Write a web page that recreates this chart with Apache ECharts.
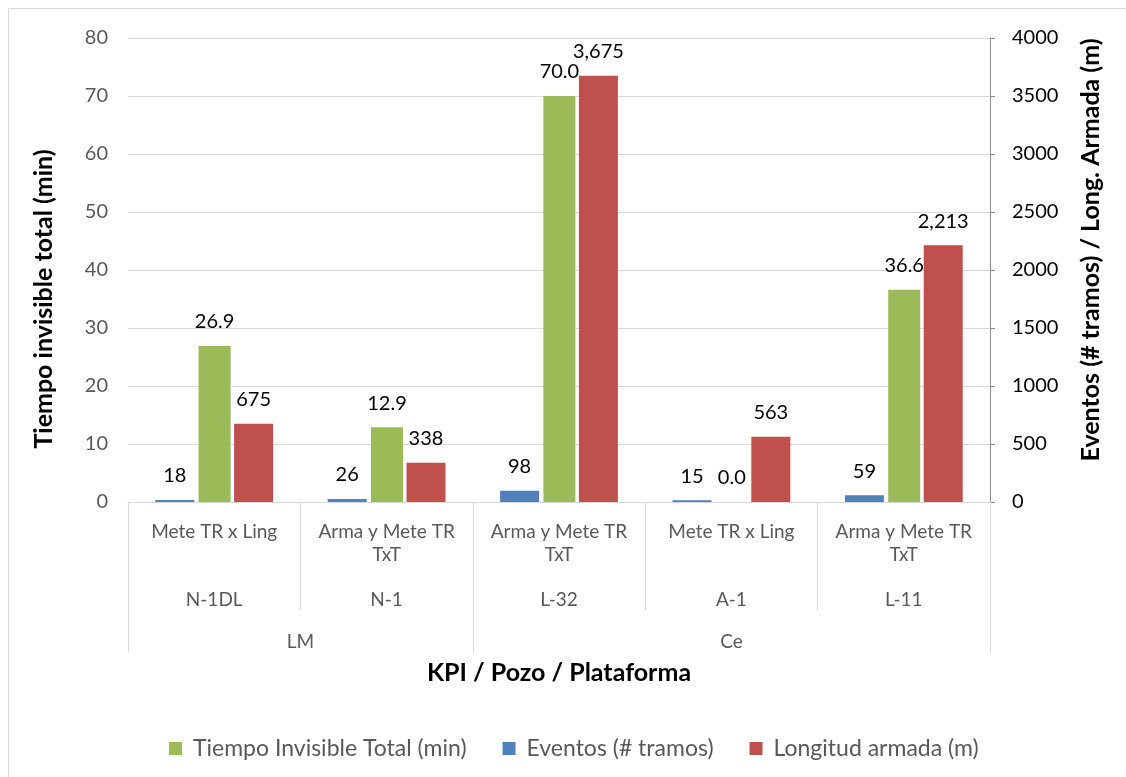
<!DOCTYPE html>
<html>
<head>
<meta charset="utf-8">
<script src="https://cdn.jsdelivr.net/npm/echarts@6/dist/echarts.min.js"></script>
<style>
  html, body { margin: 0; padding: 0; background: #fff; }
  #chart { width: 1126px; height: 777px; }
</style>
</head>
<body>
<div id="chart"></div>
<script>
// categories (three levels, bottom to top)
const kpis = ['Mete TR x Ling', 'Arma y Mete TR\nTxT', 'Arma y Mete TR\nTxT', 'Mete TR x Ling', 'Arma y Mete TR\nTxT']
const pozos = ['N-1DL', 'N-1', 'L-32', 'A-1', 'L-11']
const plataformas = ['LM', 'Ce']
const plataformaSpan = [2, 3]

// series values
const eventos = [18, 26, 98, 15, 59]
const tiempo = [26.9, 12.9, 70.0, 0.0, 36.6]
const longitud = [675, 338, 3675, 563, 2213]

// axis ranges
const leftAxis = { min: 0, max: 80, interval: 10 }
const rightAxis = { min: 0, max: 4000, interval: 500 }

const FONT = 'Lato'
const GRID_COLOR = '#d9d9d9'

// group edges / centres for the platform level
const platEdges = [0]
plataformaSpan.forEach((s) => platEdges.push(platEdges[platEdges.length - 1] + s))
const platCenters = plataformas.map((_, i) => (platEdges[i] + platEdges[i + 1]) / 2)

const chart = echarts.init(document.getElementById('chart'))

const barLabel = (fmt) => ({
  show: true,
  position: 'top',
  distance: 14,
  color: '#000',
  fontFamily: FONT,
  fontSize: 20,
  formatter: (p) => fmt(p.value)
})

const title = (text, x, y, rotation) => ({
  type: 'text',
  x,
  y,
  rotation,
  style: {
    text,
    fontFamily: FONT,
    fontSize: 25,
    fontWeight: 'bold',
    fill: '#000',
    align: 'center',
    verticalAlign: 'middle'
  }
})

chart.setOption({
  animation: false,
  textStyle: { fontFamily: FONT },
  grid: { left: 128, right: 136, top: 38, bottom: 275 },
  legend: {
    data: ['Tiempo Invisible Total (min)', 'Eventos (# tramos)', 'Longitud armada (m)'],
    left: 164,
    top: 732,
    icon: 'rect',
    itemWidth: 13,
    itemHeight: 13,
    itemGap: 36,
    textStyle: { fontFamily: FONT, fontSize: 23, color: '#595959', padding: [0, 0, 0, 6] }
  },
  xAxis: [
    {
      type: 'category',
      data: kpis,
      axisLine: { lineStyle: { color: GRID_COLOR } },
      axisTick: { show: true, interval: 0, length: 108, lineStyle: { color: GRID_COLOR } },
      axisLabel: { interval: 0, margin: 18, color: '#595959', fontSize: 19, lineHeight: 23, fontFamily: FONT }
    },
    {
      type: 'category',
      data: pozos,
      position: 'bottom',
      axisLine: { show: false },
      axisTick: { show: false },
      axisLabel: { interval: 0, margin: 86, color: '#595959', fontSize: 19, lineHeight: 23, fontFamily: FONT }
    },
    {
      type: 'value',
      min: 0,
      max: platEdges[platEdges.length - 1],
      position: 'bottom',
      splitLine: { show: false },
      axisLine: { show: false },
      axisTick: { show: true, customValues: platEdges, length: 150, lineStyle: { color: GRID_COLOR } },
      axisLabel: {
        customValues: platCenters,
        margin: 128,
        color: '#595959',
        fontSize: 19,
        lineHeight: 23,
        fontFamily: FONT,
        formatter: (v) => plataformas[platCenters.indexOf(v)] || ''
      }
    }
  ],
  yAxis: [
    {
      type: 'value',
      ...leftAxis,
      axisLine: { show: false },
      axisTick: { show: false },
      splitLine: { lineStyle: { color: GRID_COLOR } },
      axisLabel: { margin: 20, color: '#595959', fontSize: 20, fontFamily: FONT }
    },
    {
      type: 'value',
      ...rightAxis,
      position: 'right',
      axisLine: { show: true, lineStyle: { color: '#8c8c8c' } },
      axisTick: { show: true, length: 5, lineStyle: { color: '#8c8c8c' } },
      splitLine: { show: false },
      axisLabel: { margin: 22, color: '#000', fontSize: 20, fontFamily: FONT, formatter: (v) => String(v) }
    }
  ],
  series: [
    {
      name: 'Eventos (# tramos)',
      type: 'bar',
      yAxisIndex: 1,
      data: eventos,
      barWidth: 39,
      barGap: '11%',
      itemStyle: { color: '#4f81bd' },
      label: barLabel((v) => v.toFixed(0))
    },
    {
      name: 'Tiempo Invisible Total (min)',
      type: 'bar',
      yAxisIndex: 0,
      data: tiempo,
      barWidth: 32,
      barGap: '11%',
      itemStyle: { color: '#9bbb59' },
      label: barLabel((v) => v.toFixed(1))
    },
    {
      name: 'Longitud armada (m)',
      type: 'bar',
      yAxisIndex: 1,
      data: longitud,
      barWidth: 39,
      barGap: '11%',
      itemStyle: { color: '#c0504d' },
      label: barLabel((v) => v.toLocaleString('en-US'))
    }
  ],
  graphic: [
    {
      type: 'rect',
      shape: { x: 8.5, y: 8.5, width: 1300, height: 1000 },
      style: { fill: 'none', stroke: GRID_COLOR, lineWidth: 1 },
      silent: true
    },
    title('Tiempo invisible total (min)', 44, 299, Math.PI / 2),
    title('Eventos (# tramos) / Long. Armada (m)', 1091, 250, Math.PI / 2),
    title('KPI / Pozo / Plataforma', 559, 673, 0)
  ]
})
</script>
</body>
</html>
